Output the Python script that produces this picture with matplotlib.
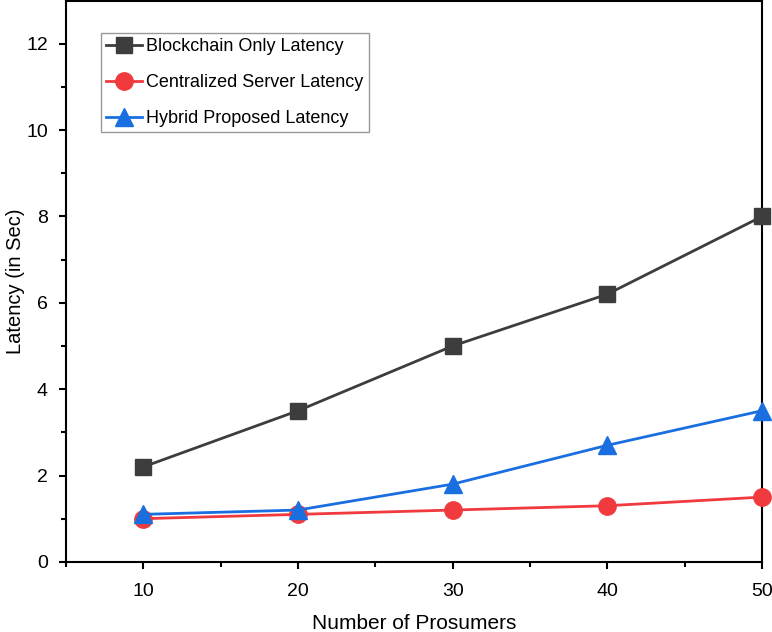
import matplotlib.pyplot as plt

plt.rcParams['font.family'] = ['Liberation Sans', 'DejaVu Sans']

# datos
prosumers = [10, 20, 30, 40, 50]
blockchain = [2.2, 3.5, 5.0, 6.2, 8.0]
centralized = [1.0, 1.1, 1.2, 1.3, 1.5]
hybrid = [1.1, 1.2, 1.8, 2.7, 3.5]

fig = plt.figure(figsize=(7.72, 6.32), dpi=100)
ax = fig.add_axes([0.0855, 0.111, 0.9015, 0.888])

ax.plot(prosumers, blockchain, '-s', color='#3d3d3d', linewidth=2, markersize=11.5,
        label='Blockchain Only Latency', clip_on=False, zorder=3)
ax.plot(prosumers, centralized, '-o', color='#f03a3d', linewidth=2, markersize=12.5,
        label='Centralized Server Latency', clip_on=False, zorder=3)
ax.plot(prosumers, hybrid, '-^', color='#1a6fe0', linewidth=2, markersize=13.5,
        label='Hybrid Proposed Latency', clip_on=False, zorder=4)

ax.set_xlim(5, 50)
ax.set_ylim(0, 13)
ax.set_xticks([10, 20, 30, 40, 50])
ax.set_xticks([5, 15, 25, 35, 45], minor=True)
ax.set_yticks([0, 2, 4, 6, 8, 10, 12])
ax.set_yticks([1, 3, 5, 7, 9, 11], minor=True)

ax.tick_params(which='major', direction='out', length=5, width=1.5, labelsize=14, pad=8)
ax.tick_params(axis='x', which='major', pad=10)
ax.tick_params(which='minor', direction='out', length=3.5, width=1.5)
for s in ax.spines.values():
    s.set_linewidth(1.5)

ax.set_xlabel('Number of Prosumers', fontsize=15, labelpad=10)
ax.set_ylabel('Latency (in Sec)', fontsize=14.5, labelpad=1)

leg = ax.legend(loc='upper left', bbox_to_anchor=(0.05, 0.943), fontsize=13,
                handlelength=2.0, fancybox=False, framealpha=1, edgecolor='#999999',
                labelspacing=1.05, borderpad=0.3, handletextpad=0.2,
                borderaxespad=0)

plt.savefig('out.png', dpi=100)
